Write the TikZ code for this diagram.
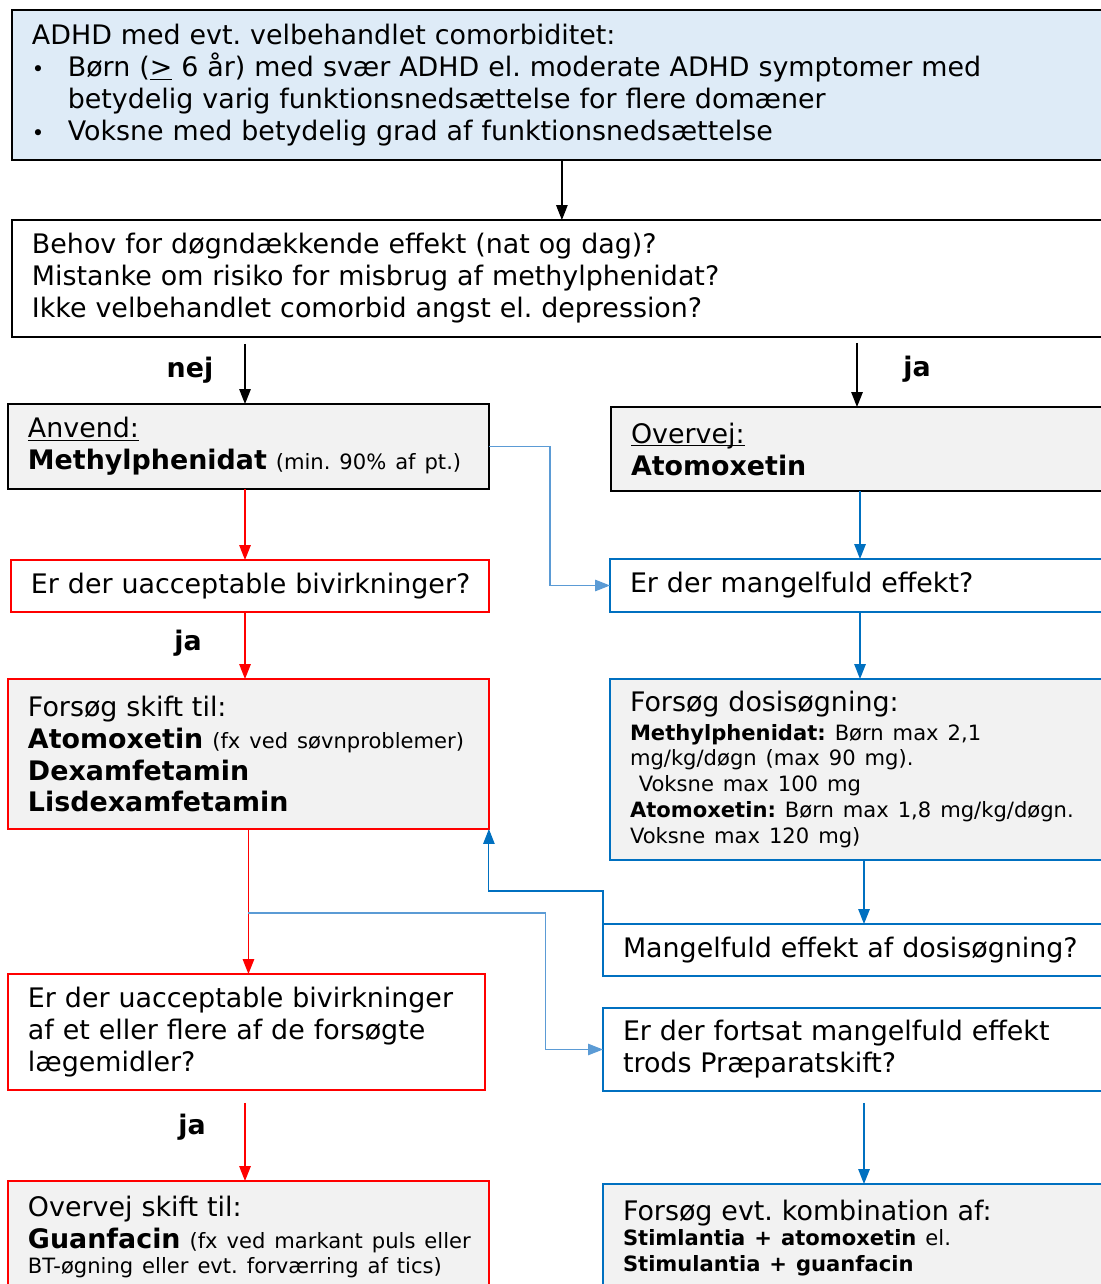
\documentclass[tikz,border=0pt]{standalone}
\usepackage{fontspec}
\setmainfont{DejaVu Sans}
\usetikzlibrary{arrows.meta}
\usetikzlibrary{calc}
\definecolor{boxred}{RGB}{255,0,0}
\definecolor{boxblue}{RGB}{0,112,192}
\definecolor{lineblue}{RGB}{91,155,213}
\definecolor{topfill}{RGB}{222,235,247}
\definecolor{grayfill}{RGB}{242,242,242}
\newcommand{\mainsz}{\fontsize{15.3}{18.2}\selectfont}
\newcommand{\smallsz}{\fontsize{12}{14.7}\selectfont}
\frenchspacing

\begin{document}
\begin{tikzpicture}[x=0.02cm,y=-0.02cm]
  \tikzset{box/.style = {draw,rectangle,anchor=north west,align=left,inner xsep=0.4cm,inner ysep=0.1cm,outer sep=0pt,font=\mainsz,line width=1.4pt,
    execute at begin node={\rightskip=-1cm plus 1fil\relax}}}
  \tikzset{redbox/.style = {box,draw=boxred,line width=1.2pt}}
  \tikzset{bluebox/.style = {box,draw=boxblue,line width=1.2pt}}
  \tikzset{edge/.style = {-{Triangle[length=0.3cm,width=0.23cm]},line width=0.8pt}}
  \tikzset{answer/.style = {font=\mainsz\bfseries}}

  \useasboundingbox (0,0) rectangle (1101,1284);

	\node[box,fill=topfill,text width=21.2cm,minimum height=3cm] (top) at (12,10) {ADHD med evt. velbehandlet comorbiditet:\\
	\makebox[20.4pt][l]{\smallsz•}Børn (\underline{>} 6 år) med svær ADHD el. moderate ADHD symptomer med\\
	\hspace*{20.4pt}betydelig varig funktionsnedsættelse for flere domæner\\
	\makebox[20.4pt][l]{\smallsz•}Voksne med betydelig grad af funktionsnedsættelse};
	\node[box,fill=white,text width=21.2cm,minimum height=2.34cm] (q1) at (12,220) {Behov for døgndækkende effekt (nat og dag)?\\
	Mistanke om risiko for misbrug af methylphenidat?\\
	Ikke velbehandlet comorbid angst el. depression?};

	\node[box,fill=grayfill,text width=8.82cm,minimum height=1.7cm] (mph) at (8,404) {\underline{\smash{Anvend:}}\vphantom{Anvend:}\\
	\textbf{Methylphenidat} {\smallsz(min. 90\% af pt.)}};
	\node[box,fill=grayfill,text width=12cm,minimum height=1.68cm] (atx) at (611,407) {\underline{\smash{Overvej:}}\vphantom{Overvej:}\\
	\textbf{Atomoxetin}};

	\node[redbox,fill=white,text width=8.76cm,minimum height=1.04cm] (bi1) at (11,560) {Er der uacceptable bivirkninger?};
	\node[bluebox,fill=white,text width=12cm,minimum height=1.06cm] (ef1) at (610,559) {Er der mangelfuld effekt?};

	\node[redbox,fill=grayfill,text width=8.82cm,minimum height=3cm] (sk1) at (8,679) {Forsøg skift til:\\
	\textbf{Atomoxetin} {\smallsz(fx ved søvnproblemer)}\\
	\textbf{Dexamfetamin}\\
	\textbf{Lisdexamfetamin}};
	\node[bluebox,fill=grayfill,text width=12cm,minimum height=3.62cm] (dos) at (610,679) {Forsøg dosisøgning:\par
	\vspace{1.5pt}{\smallsz\textbf{Methylphenidat:} Børn max 2,1\\
	mg/kg/døgn (max 90 mg).\\
	\hspace*{5pt}Voksne max 100 mg\\
	\textbf{Atomoxetin:} Børn max 1,8 mg/kg/døgn.\\
	Voksne max 120 mg)\par}};

	\node[bluebox,fill=white,text width=12cm,minimum height=1.04cm] (ef2) at (603,924) {Mangelfuld effekt af dosisøgning?};

	\node[redbox,fill=white,text width=8.74cm,minimum height=2.32cm] (bi2) at (8,974) {Er der uacceptable bivirkninger\\
	af et eller flere af de forsøgte\\
	lægemidler?};
	\node[bluebox,fill=white,text width=12cm,minimum height=1.66cm] (ef3) at (603,1008) {Er der fortsat mangelfuld effekt\\
	trods Præparatskift?};

	\node[redbox,fill=grayfill,text width=8.82cm,minimum height=2.24cm] (gua) at (8,1181) {Overvej skift til:\\
	\textbf{Guanfacin} {\smallsz(fx ved markant puls eller}\par
	{\smallsz BT-øgning eller evt. forværring af tics)\par}};
	\node[bluebox,fill=grayfill,text width=12cm,minimum height=2.16cm] (komb) at (603,1184) {Forsøg evt. kombination af:\par
	{\smallsz\textbf{Stimlantia + atomoxetin} el.\\
	\textbf{Stimulantia + guanfacin}\par}};

	\node[answer] (nej) at (190,370) {nej};
	\node[answer] (ja1) at (917,369) {ja};
	\node[answer] (ja2) at (188,643) {ja};
	\node[answer] (ja3) at (192,1127) {ja};

	\coordinate (L) at (245,0);
	\coordinate (R) at (860,0);
	\coordinate (R2) at (864,0);
	\coordinate (split) at ($(sk1.south)+(0,84)$);

	\draw[edge] (top) -- (q1);
	\draw[edge,shorten <=0.14cm] (q1.south -| L) -- (mph.north -| L);
	\draw[edge,shorten <=0.12cm] (q1.south -| 857,0) -- (atx.north -| 857,0);

	\foreach \from/\to in {mph/bi1, bi1/sk1}
    \draw[edge,boxred] (\from.south -| L) -- (\to.north -| L);
	\draw[edge,boxred] (sk1.south) -- (bi2.north -| sk1.south);
	\draw[edge,boxred,shorten <=0.26cm] (bi2.south -| L) -- (gua.north -| L);

	\foreach \from/\to in {atx/ef1, ef1/dos}
    \draw[edge,boxblue] (\from.south -| R) -- (\to.north -| R);
	\draw[edge,boxblue] (dos.south -| R2) -- (ef2.north -| R2);
	\draw[edge,boxblue,shorten <=0.24cm] (ef3.south -| R2) -- (komb.north -| R2);

	\draw[edge,lineblue] (mph.east) -- ++(61,0) |- (ef1.west);
	\draw[edge,boxblue,line width=0.6pt] (ef2.west) -- ++(0,-59) -| (sk1.south east);
	\draw[edge,lineblue,line width=0.6pt] (split) -- ++(297,0) |- (ef3.west);
\end{tikzpicture}
\end{document}
